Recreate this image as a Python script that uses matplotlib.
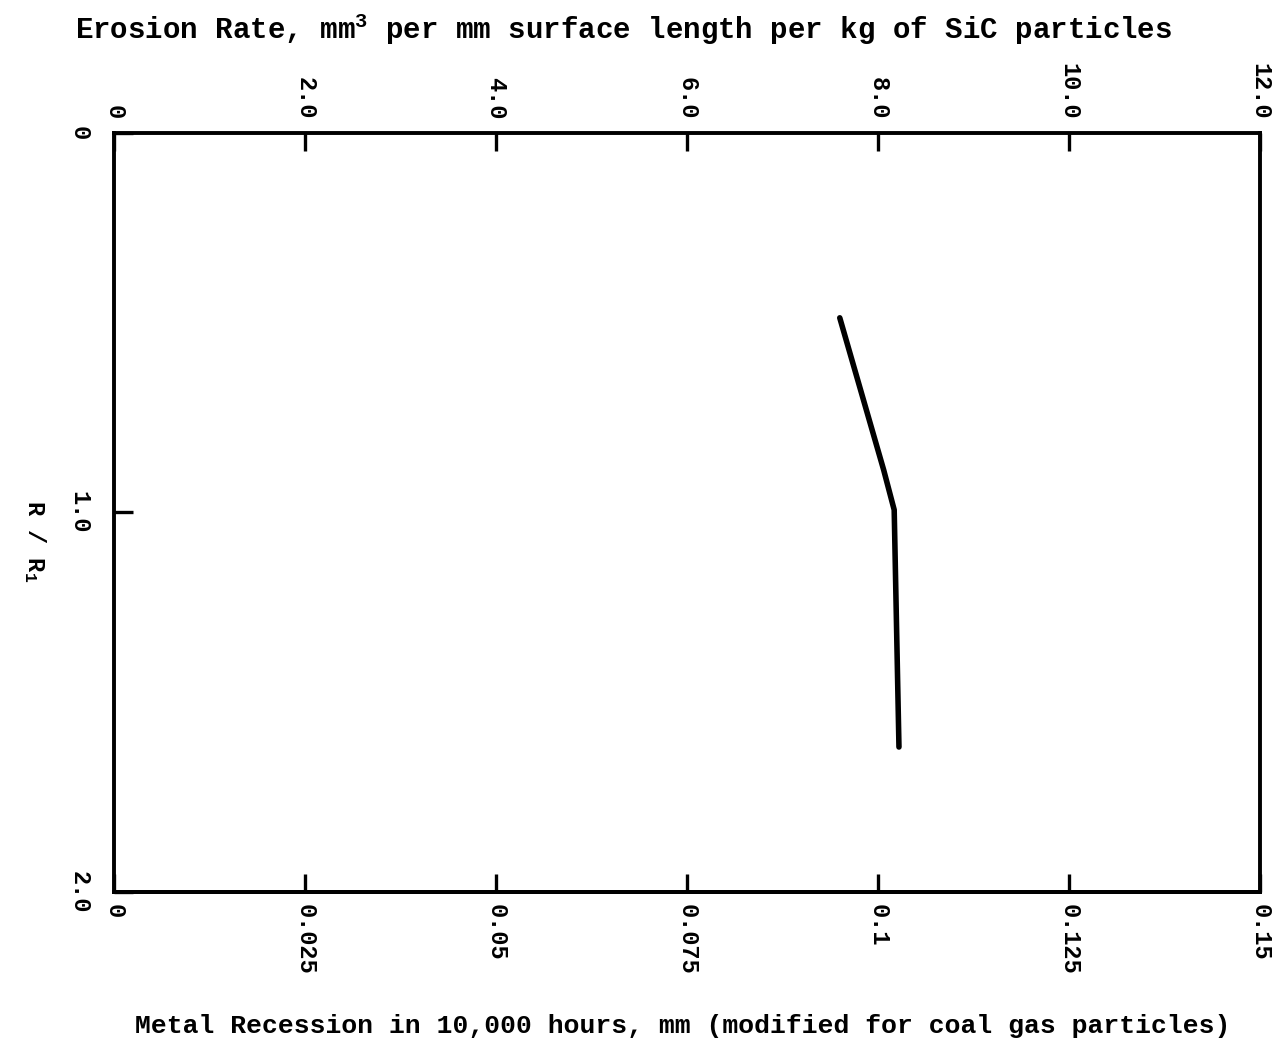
import numpy as np
import matplotlib.pyplot as plt

plt.rcParams['font.family'] = ['Liberation Mono', 'DejaVu Sans Mono']
plt.rcParams['font.weight'] = 'bold'
plt.rcParams['mathtext.fontset'] = 'custom'
plt.rcParams['mathtext.rm'] = 'Liberation Mono:bold'
plt.rcParams['mathtext.it'] = 'Liberation Mono:bold'

# erosion curve: radius ratio vs erosion rate
r_ratio = [0.487, 0.888, 0.993, 1.618]
erosion = [7.60, 8.06, 8.17, 8.22]

top_ticks = [0, 2, 4, 6, 8, 10, 12]
top_labels = ['0', '2.0', '4.0', '6.0', '8.0', '10.0', '12.0']
bot_ticks = [0, 0.025, 0.05, 0.075, 0.1, 0.125, 0.15]
bot_labels = ['0', '0.025', '0.05', '0.075', '0.1', '0.125', '0.15']
left_ticks = [0, 1.0, 2.0]
left_labels = ['0', '1.0', '2.0']

# mm recession in 10,000 h per unit erosion rate
k = 0.15 / 12.0

fig = plt.figure(figsize=(12.83, 10.53), dpi=100)
ax = fig.add_axes([0.0889, 0.1529, 0.8931, 0.7208])

ax.plot(erosion, r_ratio, color='black', lw=4, solid_capstyle='round',
        solid_joinstyle='round')

ax.set_xlim(0, 12)
ax.set_ylim(2.0, 0)

for s in ax.spines.values():
    s.set_linewidth(2.8)

ax.xaxis.tick_top()
ax.set_xticks(top_ticks)
ax.set_xticklabels(top_labels, rotation=-90, fontsize=17)
ax.tick_params(axis='x', direction='in', length=13, width=2.4, pad=10)

ax.set_yticks(left_ticks)
ax.set_yticklabels(left_labels, rotation=-90, fontsize=17, va='center')
ax.tick_params(axis='y', direction='in', length=14, width=2.4, pad=17)

sec = ax.secondary_xaxis('bottom', functions=(lambda x: x * k, lambda x: x / k))
sec.set_xticks(bot_ticks)
sec.set_xticklabels(bot_labels, rotation=-90, fontsize=17)
sec.tick_params(direction='in', length=13, width=2.4, pad=9)
sec.spines['bottom'].set_linewidth(2.8)

fig.text(0.486, 0.972, r'Erosion Rate, mm$^{3}$ per mm surface length per kg of SiC particles',
         ha='center', va='center', fontsize=21)
fig.text(0.532, 0.026, 'Metal Recession in 10,000 hours, mm (modified for coal gas particles)',
         ha='center', va='center', fontsize=19)
fig.text(0.027, 0.486, r'R / R$_{1}$', rotation=-90, ha='center', va='center', fontsize=17)

fig.savefig('out.png', dpi=100)
